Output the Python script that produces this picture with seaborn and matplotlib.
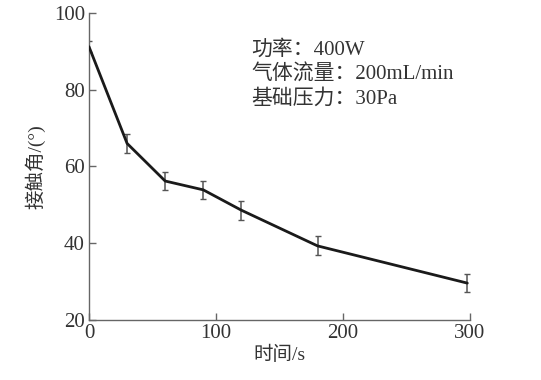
import numpy as np
import pandas as pd
import matplotlib
matplotlib.use("Agg")
import matplotlib.pyplot as plt
import seaborn as sns

# data
time_s = [0, 30, 60, 90, 120, 180, 298]
angle = [91.2, 66.0, 56.2, 53.9, 48.6, 39.3, 29.6]
err = [1.5, 2.4, 2.3, 2.4, 2.5, 2.5, 2.4]

note_lines = ["功率：400W", "气体流量：200mL/min", "基础压力：30Pa"]
note_y = [90.4, 83.9, 77.6]
x_ticks = [0, 100, 200, 300]
y_ticks = [20, 40, 60, 80, 100]

sns.set_theme(style="ticks")
fonts = ["Liberation Serif", "Noto Sans CJK SC", "DejaVu Sans"]
plt.rcParams["font.family"] = fonts

df = pd.DataFrame({"time": time_s, "angle": angle, "err": err})

fig = plt.figure(figsize=(5.41, 3.80), dpi=100)
ax = fig.add_axes([0.1645, 0.158, 0.704, 0.808])

ax.errorbar(df["time"], df["angle"], yerr=df["err"], fmt="none",
            ecolor="#555555", elinewidth=1.1, capsize=2.5, capthick=1.0, zorder=2)
sns.lineplot(data=df, x="time", y="angle", ax=ax, color="#1a1a1a",
             linewidth=2.0, zorder=3)

ax.set_xlim(0, 300)
ax.set_ylim(20, 100)
ax.set_xticks(x_ticks)
ax.set_yticks(y_ticks)

grey = "#666666"
for side in ["top", "right"]:
    ax.spines[side].set_visible(False)
for side in ["left", "bottom"]:
    ax.spines[side].set_color(grey)
    ax.spines[side].set_linewidth(1.0)
ax.tick_params(direction="in", length=5, width=1.0, color=grey,
               labelsize=15, labelcolor="#333333", pad=3)

ax.set_xlabel("时间/s", fontsize=14, color="#333333", labelpad=2)
ax.set_ylabel("接触角/(°)", fontsize=14, color="#333333", labelpad=6)

for line, yy in zip(note_lines, note_y):
    ax.text(128, yy, line, fontsize=15, color="#333333", va="center", ha="left")

fig.savefig("out.png", dpi=100)
